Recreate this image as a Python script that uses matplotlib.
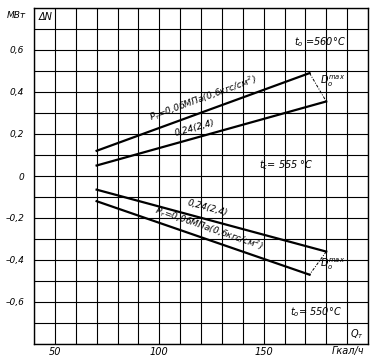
import matplotlib
matplotlib.use("Agg")
import matplotlib.pyplot as plt
import numpy as np

# ---- data ----
q_up_006 = [70, 172]
dn_up_006 = [0.12, 0.49]
q_up_024 = [70, 180]
dn_up_024 = [0.05, 0.355]
q_lo_024 = [70, 180]
dn_lo_024 = [-0.065, -0.36]
q_lo_006 = [70, 172]
dn_lo_006 = [-0.12, -0.47]

x_ticks = [50, 100, 150]
x_ticklabels = ["50", "100", "150"]
y_ticks = [0.6, 0.4, 0.2, 0.0, -0.2, -0.4, -0.6]
y_ticklabels = ["0,6", "0,4", "0,2", "0", "–0,2", "–0,4", "–0,6"]
x_grid = list(range(40, 201, 10))
y_grid = [round(v, 1) for v in np.arange(-0.8, 0.81, 0.1)]

label_006 = r"$P_{\mathrm{т}}$=0,06МПа(0,6кгс/см$^2$)"
label_024 = "0,24(2,4)"

plt.rcParams['font.family'] = ['Liberation Sans Narrow', 'DejaVu Sans']
plt.rcParams['font.style'] = 'italic'
plt.rcParams['mathtext.fontset'] = 'custom'
plt.rcParams['mathtext.rm'] = 'DejaVu Sans:italic'
plt.rcParams['mathtext.it'] = 'DejaVu Sans:italic'

fig = plt.figure(figsize=(3.75, 3.59), dpi=100)
ax = fig.add_axes([34/375, 1-344/359, (368-34)/375, (344-8)/359])
ax.set_xlim(40, 200)
ax.set_ylim(-0.8, 0.8)

for xv in x_grid:
    ax.axvline(xv, color='black', lw=0.8, zorder=1)
for yv in y_grid:
    ax.axhline(yv, color='black', lw=0.8, zorder=1)

for s in ax.spines.values():
    s.set_linewidth(1.0)

ax.set_xticks(x_ticks)
ax.set_xticklabels(x_ticklabels, fontsize=7)
ax.set_yticks(y_ticks)
ax.set_yticklabels(y_ticklabels, fontsize=6.5)
ax.tick_params(length=0)
ax.tick_params(axis='y', pad=7)
ax.tick_params(axis='x', pad=2)

lw = 1.6
ax.plot(q_up_006, dn_up_006, color='black', lw=lw, zorder=3)
ax.plot(q_up_024, dn_up_024, color='black', lw=lw, zorder=3)
ax.plot(q_lo_024, dn_lo_024, color='black', lw=lw, zorder=3)
ax.plot(q_lo_006, dn_lo_006, color='black', lw=lw, zorder=3)

# D0max limit lines
ax.plot([q_up_006[1], q_up_024[1]], [dn_up_006[1], dn_up_024[1]],
        color='black', lw=0.7, ls=(0, (3, 1.5, 1, 1.5)), zorder=3)
ax.plot([q_lo_024[1], q_lo_006[1]], [dn_lo_024[1], dn_lo_006[1]],
        color='black', lw=0.7, ls=(0, (3, 1.5, 1, 1.5)), zorder=3)

def angle(xs, ys):
    p = ax.transData.transform(np.column_stack([xs, ys]))
    d = p[1] - p[0]
    return np.degrees(np.arctan2(d[1], d[0]))

fs = 6.5
ax.text(121, 0.37, label_006, rotation=angle(q_up_006, dn_up_006),
        ha='center', va='center', fontsize=fs, zorder=4)
ax.text(117, 0.228, label_024, rotation=angle(q_up_024, dn_up_024),
        ha='center', va='center', fontsize=fs, zorder=4)
ax.text(123, -0.152, label_024, rotation=angle(q_lo_024, dn_lo_024),
        ha='center', va='center', fontsize=fs, zorder=4)
ax.text(124, -0.248, label_006, rotation=angle(q_lo_006, dn_lo_006),
        ha='center', va='center', fontsize=fs, zorder=4)

ax.text(183, 0.45, r"$D_o^{max}$", fontsize=7, ha='center', va='center', zorder=4)
ax.text(183, -0.42, r"$D_o^{max}$", fontsize=7, ha='center', va='center', zorder=4)

ax.text(177, 0.64, r"$t_o$ =560°C", fontsize=7, ha='center', va='center', zorder=4)
ax.text(161, 0.05, r"$t_c$= 555 °C", fontsize=7, ha='center', va='center', zorder=4)
ax.text(175, -0.65, r"$t_o$= 550°C", fontsize=7, ha='center', va='center', zorder=4)

ax.text(194.5, -0.755, r"$Q_{\mathrm{т}}$", fontsize=7, ha='center', va='center', zorder=4)
ax.text(45.5, 0.755, "ΔN", fontsize=7, ha='center', va='center', zorder=4)
fig.text(16/375, 1-16/359, "МВт", fontsize=6.5, ha='center', va='center')
fig.text(348/375, 1-351/359, "Гкал/ч", fontsize=7, ha='center', va='center')

fig.savefig("out.png", dpi=100)
